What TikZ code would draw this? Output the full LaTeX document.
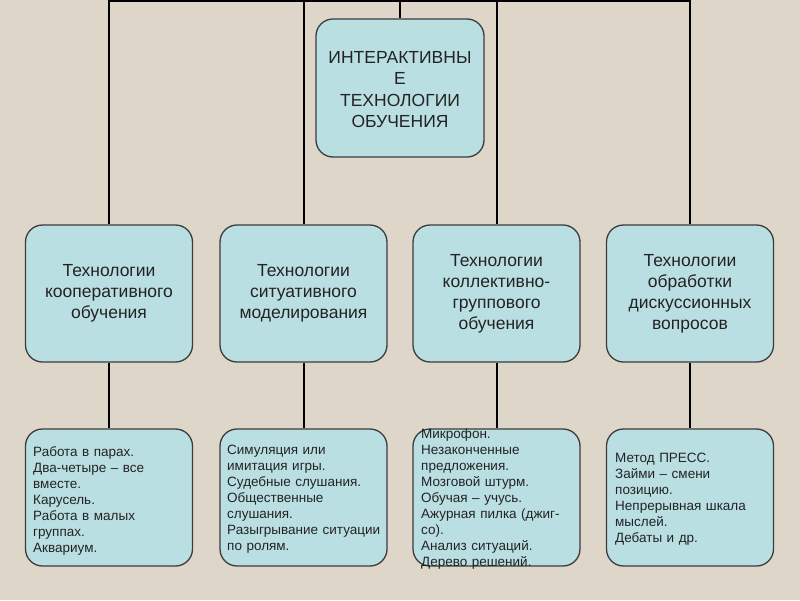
\documentclass[tikz,border=0pt]{standalone}
\usepackage{fontspec}
\setmainfont{Liberation Sans}
\definecolor{bg}{RGB}{222,214,201}
\definecolor{boxfill}{RGB}{186,223,227}
\definecolor{boxline}{RGB}{60,60,60}
\definecolor{txt}{RGB}{35,35,35}
\begin{document}
\begin{tikzpicture}[x=1pt,y=-1pt,
  box/.style={draw=boxline,line width=1.3pt,fill=boxfill,rounded corners=17pt,
    minimum width=167pt,minimum height=137pt,inner sep=0pt},
  headtext/.style={align=center,text=txt,font=\fontsize{17.5}{21.5}\selectfont},
  midtext/.style={align=center,text=txt,font=\fontsize{17.5}{21}\selectfont},
  leaftext/.style={align=left,text=txt,text width=165pt,inner sep=0pt,
    font=\fontsize{13.5}{16}\selectfont},
  conn/.style={draw=black,line width=2pt}]
\fill[bg] (0,0) rectangle (800,600);
\useasboundingbox (0,0) rectangle (800,600);

% top node
\node[box,minimum width=168pt,minimum height=138pt] (top) at (400,88) {};
\node[headtext] (toptext) at (400,89.5) {ИНТЕРАКТИВНЫ\\Е\\ТЕХНОЛОГИИ\\ОБУЧЕНИЯ};

% level 2
\node[box] (m1) at (109,293.5) {};
\node[box] (m2) at (303.5,293.5) {};
\node[box] (m3) at (496.5,293.5) {};
\node[box] (m4) at (690,293.5) {};
\node[midtext] (mt1) at (m1.center) {Технологии\\кооперативного\\обучения};
\node[midtext] (mt2) at (m2.center) {Технологии\\ситуативного\\моделирования};
\node[midtext] (mt3) at (m3.center) {Технологии\\коллективно-\\группового\\обучения};
\node[midtext] (mt4) at (m4.center) {Технологии\\обработки\\дискуссионных\\вопросов};

% level 3
\node[box] (l1) at (109,497.5) {};
\node[box] (l2) at (303.5,497.5) {};
\node[box] (l3) at (496.5,497.5) {};
\node[box] (l4) at (690,497.5) {};
\node[leaftext,anchor=west] (lt1) at (33,501) {Работа в парах.\\Два-четыре -- все\\вместе.\\Карусель.\\Работа в малых\\группах.\\Аквариум.};
\node[leaftext,anchor=west] (lt2) at (227,499) {Симуляция или\\имитация игры.\\Судебные слушания.\\Общественные\\слушания.\\Разыгрывание ситуации\\по ролям.};
\node[leaftext,anchor=west] (lt3) at (421,499.5) {Микрофон.\\Незаконченные\\предложения.\\Мозговой штурм.\\Обучая -- учусь.\\Ажурная пилка (джиг-\\со).\\Анализ ситуаций.\\Дерево решений.};
\node[leaftext,anchor=west] (lt4) at (615,499) {Метод ПРЕСС.\\Займи -- смени\\позицию.\\Непрерывная шкала\\мыслей.\\Дебаты и др.};

% connectors
\coordinate (c1) at (109,1);
\coordinate (c2) at (303.5,1);
\coordinate (c3) at (400,1);
\coordinate (c4) at (496.5,1);
\coordinate (c5) at (690,1);
\draw[conn] ([xshift=-1pt]c1) -- ([xshift=1pt]c5);
\draw[conn] (c1) -- (m1.north);
\draw[conn] (c2) -- (m2.north);
\draw[conn] (c3) -- (top.north);
\draw[conn] (c4) -- (m3.north);
\draw[conn] (c5) -- (m4.north);
\draw[conn] (m1.south) -- (l1.north);
\draw[conn] (m2.south) -- (l2.north);
\draw[conn] (m3.south) -- (l3.north);
\draw[conn] (m4.south) -- (l4.north);
\end{tikzpicture}
\end{document}
